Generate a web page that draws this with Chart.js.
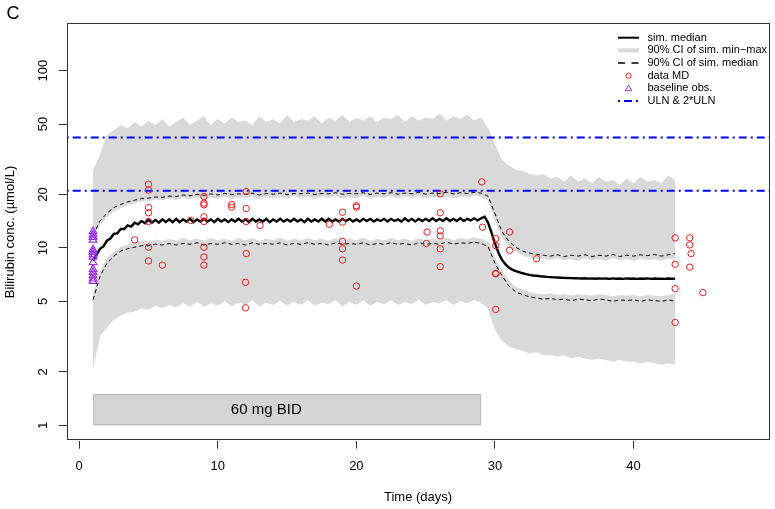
<!DOCTYPE html>
<html><head><meta charset="utf-8">
<script src="https://cdn.jsdelivr.net/npm/chart.js@4/dist/chart.umd.min.js"></script>
<style>html,body{margin:0;padding:0;background:#fff;overflow:hidden}canvas{display:block}</style>
</head><body>
<canvas id="c" width="775" height="509"></canvas>
<script>
// ---------- data ----------
const dayGrid = [1,1.5,2,2.5,3,3.5,4,4.5,5,5.5,6,6.5,7,7.5,8,8.5,9,9.5,10,10.5,
  11,11.5,12,12.5,13,13.5,14,14.5,15,15.5,16,16.5,17,17.5,18,18.5,19,19.5,20,20.5,
  21,21.5,22,22.5,23,23.5,24,24.5,25,25.5,26,26.5,27,27.5,28,28.5,29,29.5,30,30.5,
  31,31.5,32,32.5,33,33.5,34,34.5,35,35.5,36,36.5,37,37.5,38,38.5,39,39.5,40,40.5,
  41,41.5,42,42.5,43];
// upper grey band (90% CI of simulated max)
const maxBandHi = [27,33,43,46,49,47,51,48,52,49, 53,48,51,54,49,52,55,49,53,50,
  54,51,52,49,55,51,53,50,56,51, 53,52,55,50,54,52,56,51,54,52,
  55,51,54,53,56,51,55,52,54,53, 57,52,55,53,56,52,54,47,38,31,
  29,27.5,27,26,25.5,26,24.5,25,23.5,25.5, 23.5,24.5,23,25,23.5,24,22.5,24.5,23,25,
  23.5,24,23,25.5,24];
const maxBandLo = [11.5,13.6,15.0,16.2,16.9,17.6,17.9,18.4,18.5,18.9, 18.7,19.1,18.8,19.3,19.0,19.4,18.9,19.5,19.1,19.6,
  19.0,19.4,19.2,19.7,19.0,19.5,19.2,19.6,19.1,19.7, 19.2,19.5,19.0,19.6,19.3,19.7,19.1,19.5,19.2,19.8,
  19.1,19.6,19.3,19.7,19.2,19.5,19.3,19.8,19.2,19.6, 19.3,19.7,19.2,19.6,19.4,19.8,19.5,18.6,14.5,11.6,
  10.2,9.6,9.1,8.9,8.7,8.8,8.6,8.8,8.6,8.7, 8.5,8.8,8.6,8.7,8.5,8.8,8.6,8.7,8.5,8.8,
  8.6,8.7,8.5,8.8,8.6];
// lower grey band (90% CI of simulated min)
const minBandHi = [5.4,7.3,8.7,9.5,10.1,10.4,10.7,10.9,10.8,11.1, 10.9,11.2,10.9,11.3,11.0,11.2,10.9,11.3,11.0,11.2,
  10.9,11.3,11.0,11.3,10.9,11.2,11.0,11.4,10.9,11.2, 11.0,11.3,11.0,11.2,10.9,11.3,11.0,11.2,11.0,11.4,
  10.9,11.2,11.0,11.3,11.0,11.2,10.9,11.3,11.0,11.2, 11.0,11.4,11.0,11.3,11.1,11.4,11.2,10.8,8.7,7.4,
  6.5,6.0,5.8,5.6,5.5,5.45,5.5,5.4,5.45,5.35, 5.45,5.4,5.35,5.45,5.4,5.3,5.4,5.35,5.4,5.3,
  5.4,5.35,5.3,5.4,5.5];
const minBandLo = [2.15,3.2,3.6,3.95,4.2,4.35,4.4,4.6,4.5,4.75, 4.6,4.8,4.65,4.9,4.7,5.0,4.7,4.9,4.75,5.05,
  4.7,4.95,4.8,5.1,4.7,4.95,4.8,5.05,4.75,5.0, 4.8,5.1,4.75,4.95,4.85,5.1,4.7,5.0,4.8,5.1,
  4.75,5.0,4.85,5.1,4.8,5.0,4.85,5.15,4.8,5.0, 4.9,5.1,4.8,5.05,4.9,5.1,4.95,4.6,3.5,3.0,
  2.8,2.7,2.65,2.55,2.6,2.5,2.5,2.45,2.5,2.4, 2.45,2.4,2.35,2.4,2.35,2.3,2.35,2.3,2.3,2.25,
  2.3,2.25,2.2,2.25,2.2];
// 90% CI of the simulated median
const ciMedHi = [11.8,14.2,15.7,16.9,17.6,18.2,18.6,19.0,19.1,19.4, 19.3,19.6,19.5,19.9,19.7,20.1,19.8,20.2,19.9,20.3,
  20.0,20.2,20.1,20.4,19.9,20.3,20.1,20.4,20.0,20.3, 20.2,20.4,20.0,20.3,20.2,20.5,20.1,20.3,20.2,20.5,
  20.0,20.4,20.2,20.5,20.1,20.4,20.2,20.6,20.1,20.4, 20.3,20.6,20.2,20.5,20.3,20.6,20.4,19.6,15.6,12.4,
  10.9,10.1,9.6,9.35,9.2,9.1,9.0,9.15,8.95,9.1, 9.0,9.15,8.95,9.1,9.0,9.2,8.95,9.1,9.0,9.15,
  9.05,9.2,9.0,9.15,9.3];
const ciMedLo = [5.1,6.9,8.2,9.0,9.6,9.9,10.1,10.3,10.3,10.5, 10.4,10.6,10.4,10.6,10.5,10.7,10.4,10.6,10.5,10.7,
  10.5,10.6,10.4,10.7,10.5,10.6,10.5,10.7,10.4,10.6, 10.5,10.7,10.5,10.6,10.4,10.7,10.5,10.6,10.5,10.7,
  10.4,10.6,10.5,10.7,10.5,10.6,10.4,10.7,10.5,10.6, 10.5,10.8,10.5,10.7,10.6,10.8,10.6,10.2,8.2,7.0,
  6.1,5.65,5.45,5.3,5.22,5.15,5.2,5.1,5.15,5.05, 5.15,5.1,5.05,5.15,5.1,5.0,5.1,5.05,5.1,5.0,
  5.1,5.05,5.0,5.1,5.0];
// simulated median (finer time grid)
const medDays = [1,1.25,1.5,1.75,2,2.25,2.5,2.75, 3,3.25,3.5,3.75,4,4.25,4.5,4.75,
  5,5.25,5.5,5.75,6,6.25,6.5,6.75, 7,7.25,7.5,7.75,8,8.25,8.5,8.75,
  9,9.25,9.5,9.75,10,10.25,10.5,10.75, 11,11.25,11.5,11.75,12,12.25,12.5,12.75,
  13,13.25,13.5,13.75,14,14.25,14.5,14.75, 15,15.25,15.5,15.75,16,16.25,16.5,16.75,
  17,17.25,17.5,17.75,18,18.25,18.5,18.75, 19,19.25,19.5,19.75,20,20.25,20.5,20.75,
  21,21.25,21.5,21.75,22,22.25,22.5,22.75, 23,23.25,23.5,23.75,24,24.25,24.5,24.75,
  25,25.25,25.5,25.75,26,26.25,26.5,26.75, 27,27.25,27.5,27.75,28,28.25,28.5,28.75,
  29,29.25,29.5,29.75,30,30.25,30.5,30.75, 31,31.25,31.5,31.75,32,32.25,32.5,32.75,
  33,33.25,33.5,33.75,34,34.25,34.5,34.75, 35,35.25,35.5,35.75,36,36.25,36.5,36.75,
  37,37.25,37.5,37.75,38,38.25,38.5,38.75, 39,39.25,39.5,39.75,40,40.25,40.5,40.75,
  41,41.25,41.5,41.75,42,42.25,42.5,42.75, 43];
const medVals = [8.5,9.1,9.9,10.2,11.0,11.3,12.0,12.1, 12.8,12.8,13.4,13.2,13.9,13.6,14.2,13.8,
  14.4,13.9,14.4,13.9,14.5,14.0,14.5,14.0, 14.6,14.0,14.5,14.1,14.6,14.0,14.5,14.1,
  14.6,14.1,14.5,14.0,14.6,14.1,14.5,14.0, 14.5,14.1,14.6,14.1,14.5,14.0,14.6,14.1,
  14.5,14.1,14.6,14.0,14.5,14.1,14.6,14.1, 14.5,14.1,14.6,14.1,14.5,14.0,14.6,14.1,
  14.5,14.1,14.6,14.1,14.6,14.1,14.5,14.1, 14.6,14.2,14.6,14.1,14.5,14.1,14.6,14.2,
  14.6,14.1,14.5,14.2,14.6,14.1,14.6,14.2, 14.5,14.1,14.7,14.2,14.6,14.1,14.6,14.2,
  14.6,14.2,14.7,14.2,14.6,14.2,14.7,14.2, 14.6,14.2,14.7,14.2,14.6,14.3,14.7,14.3,
  14.7,15.0,13.9,12.2,10.6,9.4,8.6,8.1, 7.75,7.55,7.4,7.3,7.2,7.12,7.05,7.0,
  6.97,6.93,6.9,6.87,6.85,6.83,6.82,6.8, 6.78,6.77,6.76,6.75,6.74,6.73,6.75,6.72,
  6.74,6.71,6.74,6.72,6.73,6.7,6.74,6.71, 6.73,6.7,6.74,6.71,6.73,6.7,6.73,6.71,
  6.74,6.7,6.73,6.71,6.72,6.7,6.73,6.71, 6.72];
// observed data (MD)
const obsDays = [4.0, 5,5,5,5,5,5,5, 6.0, 8.05, 9,9,9,9,9,9,9,9, 11,11,
  12.05,12.05,12.05,12.05,12,12, 13.05, 18.05, 19,19,19,19,19, 20,20,20,
  25.1,25.05, 26.05,26.05,26.05,26.05,26.05,26.05, 29.05,29.1,
  30.05,30.05,30.05,30.05,30.05, 31.05,31.05, 33.0,
  43,43,43,43, 44.05,44.05,44.15,44.05, 45.0];
const obsVals = [11.1, 22.9,21.2,16.9,15.8,14.1,10.1,8.45, 8.0, 14.3, 19.5,17.9,17.5,15.0,14.1,10.1,8.9,8.0, 17.6,17.0,
  20.8,16.7,14.1,9.3,6.4,4.6, 13.4, 13.6, 15.9,14.0,10.9,9.9,8.55, 17.3,17.0,6.1,
  12.3,10.6, 20.2,15.8,12.5,11.7,9.9,7.85, 23.6,13.1,
  11.3,10.3,7.2,7.15,4.5, 12.3,9.7, 8.7,
  11.4,8.1,5.9,3.8, 11.4,10.4,9.3,7.8, 5.6];
// baseline observations
const baseDays = [1,1,1,1,1,1,1,1,1,1,1,1,1,1];
const baseVals = [12.4,11.9,11.5,11.1,9.8,9.5,9.2,8.9,8.3,7.6,7.3,7.0,6.7,6.5];
// reference levels and dosing period
const ulnLevels = [21, 42];
const dosePeriod = [1, 29];
const doseBarRange = [1, 1.5];
const doseLabel = '60 mg BID';
const xTicks = [0, 10, 20, 30, 40];
const yTicks = [1, 2, 5, 10, 20, 50, 100];
const legendLabels = ['sim. median', '90% CI of sim. min\u2212max', '90% CI of sim. median', 'data MD', 'baseline obs.', 'ULN & 2*ULN'];

// ---------- chart ----------
const FONT = '"Liberation Sans", Arial, Helvetica, sans-serif';
const X_MIN = -0.9, X_MAX = 49.8, Y_MIN = 0.8187, Y_MAX = 185;
const GREY = '#d9d9d9';
const PURPLE = '#9b30e8';
const pts = (xs, ys) => xs.map((x, i) => ({x, y: ys[i]}));

const lineDs = (label, ys, extra) => Object.assign({
  label, data: pts(dayGrid, ys), pointRadius: 0, borderWidth: 1, tension: 0, fill: false
}, extra);

const datasets = [
  lineDs('maxLo', maxBandLo, {borderColor: GREY, order: 10}),
  lineDs('maxHi', maxBandHi, {borderColor: GREY, backgroundColor: GREY, fill: {target: 0}, order: 10}),
  lineDs('minLo', minBandLo, {borderColor: GREY, order: 10}),
  lineDs('minHi', minBandHi, {borderColor: GREY, backgroundColor: GREY, fill: {target: 2}, order: 10}),
  lineDs('ciHi', ciMedHi, {borderColor: '#000', borderDash: [4, 3], order: 6}),
  lineDs('ciLo', ciMedLo, {borderColor: '#000', borderDash: [4, 3], order: 6}),
  {label: 'median', data: pts(medDays, medVals), pointRadius: 0, borderWidth: 2.4, borderColor: '#000', tension: 0, fill: false, order: 5},
  ...ulnLevels.map(u => ({label: 'ULN ' + u, data: [{x: X_MIN, y: u}, {x: X_MAX, y: u}], pointRadius: 0,
    borderWidth: 2, borderColor: '#0000ff', borderDash: [2, 4, 8, 4], borderCapStyle: 'butt', fill: false, order: 4})),
  {type: 'scatter', label: 'data MD', data: pts(obsDays, obsVals), pointStyle: 'circle', pointRadius: 3.2,
    borderColor: '#ee1c1c', backgroundColor: 'rgba(0,0,0,0)', borderWidth: 1, order: 2},
  {type: 'scatter', label: 'baseline obs.', data: pts(baseDays, baseVals), pointStyle: 'triangle', pointRadius: 4.4,
    borderColor: PURPLE, backgroundColor: 'rgba(0,0,0,0)', borderWidth: 1.2, order: 1}
];

const deco = {
  id: 'deco',
  afterDatasetsDraw(chart) {
    const {ctx, scales: {x, y}} = chart;
    const x0 = x.getPixelForValue(dosePeriod[0]), x1 = x.getPixelForValue(dosePeriod[1]);
    const yb = y.getPixelForValue(doseBarRange[0]), yt = y.getPixelForValue(doseBarRange[1]);
    ctx.save();
    ctx.fillStyle = '#d4d4d4';
    ctx.fillRect(x0, yt, x1 - x0, yb - yt);
    ctx.strokeStyle = '#bcbcbc'; ctx.lineWidth = 1;
    ctx.strokeRect(x0 + 0.5, yt + 0.5, x1 - x0 - 1, yb - yt - 1);
    ctx.fillStyle = '#000';
    ctx.font = '15px ' + FONT;
    ctx.textAlign = 'center'; ctx.textBaseline = 'middle';
    ctx.fillText(doseLabel, x.getPixelForValue(13.5), y.getPixelForValue(Math.sqrt(doseBarRange[0] * doseBarRange[1])));
    ctx.restore();
  },
  afterDraw(chart) {
    const {ctx, chartArea: a, scales: {y}} = chart;
    ctx.save();
    // box
    ctx.strokeStyle = '#333'; ctx.lineWidth = 1;
    ctx.strokeRect(Math.round(a.left) + 0.5, Math.round(a.top) + 0.5, Math.round(a.right - a.left) - 1, Math.round(a.bottom - a.top) - 1);
    ctx.fillStyle = '#000';
    // y tick labels (rotated, as in R)
    ctx.font = '13px ' + FONT;
    ctx.textAlign = 'center'; ctx.textBaseline = 'middle';
    yTicks.forEach(v => {
      ctx.save();
      ctx.translate(43.5, y.getPixelForValue(v));
      ctx.rotate(-Math.PI / 2);
      ctx.fillText(String(v), 0, 0);
      ctx.restore();
    });
    // axis titles
    ctx.save();
    ctx.translate(10.5, (a.top + a.bottom) / 2);
    ctx.rotate(-Math.PI / 2);
    ctx.fillText('Bilirubin conc. (\u00b5mol/L)', 0, 0);
    ctx.restore();
    ctx.fillText('Time (days)', (a.left + a.right) / 2, 497.5);
    // panel letter
    ctx.font = '18px ' + FONT;
    ctx.textAlign = 'left'; ctx.textBaseline = 'alphabetic';
    ctx.fillText('C', 6.5, 18.5);
    // legend
    const lx0 = 618, lx1 = 639, lcx = 628.5, tx = 647.5, ly0 = 37.7, dy = 12.65;
    ctx.font = '11px ' + FONT;
    ctx.textBaseline = 'middle';
    legendLabels.forEach((t, i) => {
      const ly = ly0 + i * dy;
      ctx.save();
      ctx.lineCap = 'butt';
      if (i === 0) { ctx.strokeStyle = '#000'; ctx.lineWidth = 2; ctx.beginPath(); ctx.moveTo(lx0, ly); ctx.lineTo(lx1, ly); ctx.stroke(); }
      if (i === 1) { ctx.strokeStyle = GREY; ctx.lineWidth = 4; ctx.beginPath(); ctx.moveTo(lx0, ly); ctx.lineTo(lx1, ly); ctx.stroke(); }
      if (i === 2) { ctx.strokeStyle = '#000'; ctx.lineWidth = 1.5; ctx.setLineDash([7, 6.5]); ctx.beginPath(); ctx.moveTo(lx0, ly); ctx.lineTo(lx1, ly); ctx.stroke(); }
      if (i === 3) { ctx.strokeStyle = '#ee1c1c'; ctx.lineWidth = 1; ctx.beginPath(); ctx.arc(lcx, ly, 2.6, 0, 2 * Math.PI); ctx.stroke(); }
      if (i === 4) { ctx.strokeStyle = PURPLE; ctx.lineWidth = 1; ctx.beginPath(); ctx.moveTo(lcx, ly - 3.3); ctx.lineTo(lcx + 3.3, ly + 2.4); ctx.lineTo(lcx - 3.3, ly + 2.4); ctx.closePath(); ctx.stroke(); }
      if (i === 5) { ctx.strokeStyle = '#0000ff'; ctx.lineWidth = 2; ctx.setLineDash([2, 4, 8, 4]); ctx.beginPath(); ctx.moveTo(lx0, ly); ctx.lineTo(lx1 + 1, ly); ctx.stroke(); }
      ctx.restore();
      ctx.fillStyle = '#000';
      ctx.textAlign = 'left';
      ctx.fillText(t, tx, ly);
    });
    ctx.restore();
  }
};

const noPad = s => { s.paddingLeft = 0; s.paddingRight = 0; s.paddingTop = 0; s.paddingBottom = 0; };

new Chart(document.getElementById('c'), {
  type: 'line',
  data: {datasets},
  options: {
    responsive: false, animation: false, devicePixelRatio: 1,
    layout: {padding: {left: 0, top: 23.3, right: 0.7, bottom: 0}},
    plugins: {legend: {display: false}, tooltip: {enabled: false}},
    scales: {
      x: {
        type: 'linear', min: X_MIN, max: X_MAX,
        afterBuildTicks: s => { s.ticks = xTicks.map(v => ({value: v})); },
        afterFit: s => { s.height = 68.3; noPad(s); },
        grid: {drawOnChartArea: false, drawTicks: true, tickLength: 8, color: '#333', lineWidth: 1},
        border: {display: false},
        ticks: {color: '#000', font: {family: FONT, size: 13}, padding: 10, maxRotation: 0, autoSkip: false}
      },
      y: {
        type: 'logarithmic', min: Y_MIN, max: Y_MAX,
        afterBuildTicks: s => { s.ticks = yTicks.map(v => ({value: v})); },
        afterFit: s => { s.width = 66.7; noPad(s); },
        grid: {drawOnChartArea: false, drawTicks: true, tickLength: 8, color: '#333', lineWidth: 1},
        border: {display: false},
        ticks: {display: false}
      }
    }
  },
  plugins: [deco]
});
</script>
</body></html>
